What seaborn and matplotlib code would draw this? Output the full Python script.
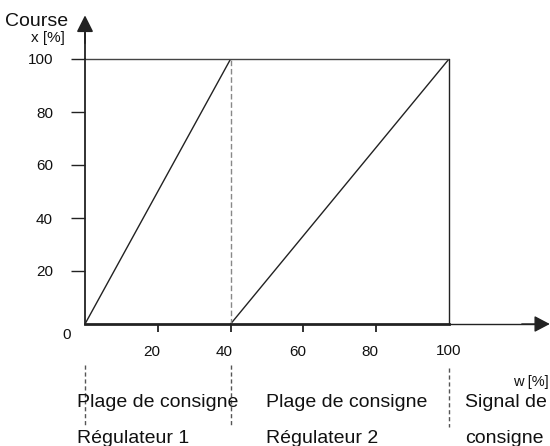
import matplotlib
matplotlib.use("Agg")
import matplotlib.pyplot as plt
import matplotlib.transforms as mtrans
import seaborn as sns
import pandas as pd

# ---- data ----
w_reg1 = [0, 40]
x_reg1 = [0, 100]
w_reg2 = [40, 100]
x_reg2 = [0, 100]
y_ticks = [20, 40, 60, 80, 100]
x_ticks = [20, 40, 60, 80]
bottom_texts = [("Plage de consigne", "Régulateur 1"),
                ("Plage de consigne", "Régulateur 2"),
                ("Signal de", "consigne")]

sns.set_style("white")
plt.rcParams['font.family'] = ['Liberation Sans', 'DejaVu Sans']

W, H = 550, 446
fig = plt.figure(figsize=(W / 100, H / 100), dpi=100)
ax = fig.add_axes([85 / W, 122 / H, 364 / W, 265 / H])

DARK = '#222222'
df1 = pd.DataFrame({'w': w_reg1, 'x': x_reg1})
df2 = pd.DataFrame({'w': w_reg2, 'x': x_reg2})
sns.lineplot(data=df1, x='w', y='x', ax=ax, color=DARK, lw=1.0)
sns.lineplot(data=df2, x='w', y='x', ax=ax, color=DARK, lw=1.0)

ax.set_xlim(0, 100)
ax.set_ylim(0, 100)
ax.set_xlabel('')
ax.set_ylabel('')

for s in ['top', 'right']:
    ax.spines[s].set_visible(False)
ax.spines['left'].set_color(DARK)
ax.spines['left'].set_linewidth(1.3)
ax.spines['bottom'].set_color(DARK)
ax.spines['bottom'].set_linewidth(2.0)

# frame lines
ax.plot([0, 100], [100, 100], color='#444444', lw=1.0, clip_on=False)
ax.plot([100, 100], [0, 100], color=DARK, lw=1.0, clip_on=False)
ax.plot([40, 40], [0, 100], color='#888888', lw=1.0, ls=(0, (4, 2)))

# ticks
ax.set_yticks(y_ticks)
ax.set_yticklabels([str(v) for v in y_ticks])
ax.tick_params(axis='y', direction='out', length=10, width=1.0, color=DARK,
               pad=13, labelsize=11, labelcolor='#111111', left=True)
ax.set_xticks(x_ticks)
ax.set_xticklabels([str(v) for v in x_ticks])
ax.tick_params(axis='x', direction='out', length=6, width=1.3, color=DARK,
               pad=9, labelsize=11, labelcolor='#111111', bottom=True)
off = mtrans.ScaledTranslation(-6 / 100, 0, fig.dpi_scale_trans)
for lbl in ax.get_xticklabels():
    lbl.set_transform(lbl.get_transform() + off)

# axis arrows
ax.plot([100, 126], [0, 0], color=DARK, lw=1.0, clip_on=False)
ax.annotate('', xy=(127.7, 0), xytext=(120, 0),
            arrowprops=dict(arrowstyle='-|>,head_length=0.95,head_width=0.5',
                            mutation_scale=10, lw=1.0, color=DARK,
                            shrinkA=0, shrinkB=0), annotation_clip=False)
ax.plot([0, 0], [100, 110], color=DARK, lw=1.3, clip_on=False)
ax.annotate('', xy=(0, 116.5), xytext=(0, 106),
            arrowprops=dict(arrowstyle='-|>,head_length=1.0,head_width=0.5',
                            mutation_scale=10, lw=1.3, color=DARK,
                            shrinkA=0, shrinkB=0), annotation_clip=False)

# dashed separators below axis
for xv, y0, y1 in [(0, -15.5, -38.1), (40, -15.5, -38.1), (100, -16.6, -38.9)]:
    ax.plot([xv, xv], [y0, y1], color='#555555', lw=1.0, ls=(0, (3, 2)),
            clip_on=False)

def ftext(x, y, s, **kw):
    fig.text(x / W, 1 - y / H, s, **kw)

ftext(5, 26, "Course", fontsize=14, ha='left', va='baseline', color='#111111')
ftext(65, 42, "x [%]", fontsize=11, ha='right', va='baseline', color='#111111')
ftext(67, 339, "0", fontsize=11, ha='center', va='baseline', color='#111111')
ftext(449, 355, "100", fontsize=11, ha='center', va='baseline', color='#111111')
ftext(549, 386, "w [%]", fontsize=10.5, ha='right', va='baseline', color='#111111')

lefts = [77, 266, 465]
for xl, (l1, l2) in zip(lefts, bottom_texts):
    ftext(xl, 407, l1, fontsize=14, ha='left', va='baseline', color='#111111')
    ftext(xl, 443, l2, fontsize=14, ha='left', va='baseline', color='#111111')

fig.savefig('out.png', dpi=100)
